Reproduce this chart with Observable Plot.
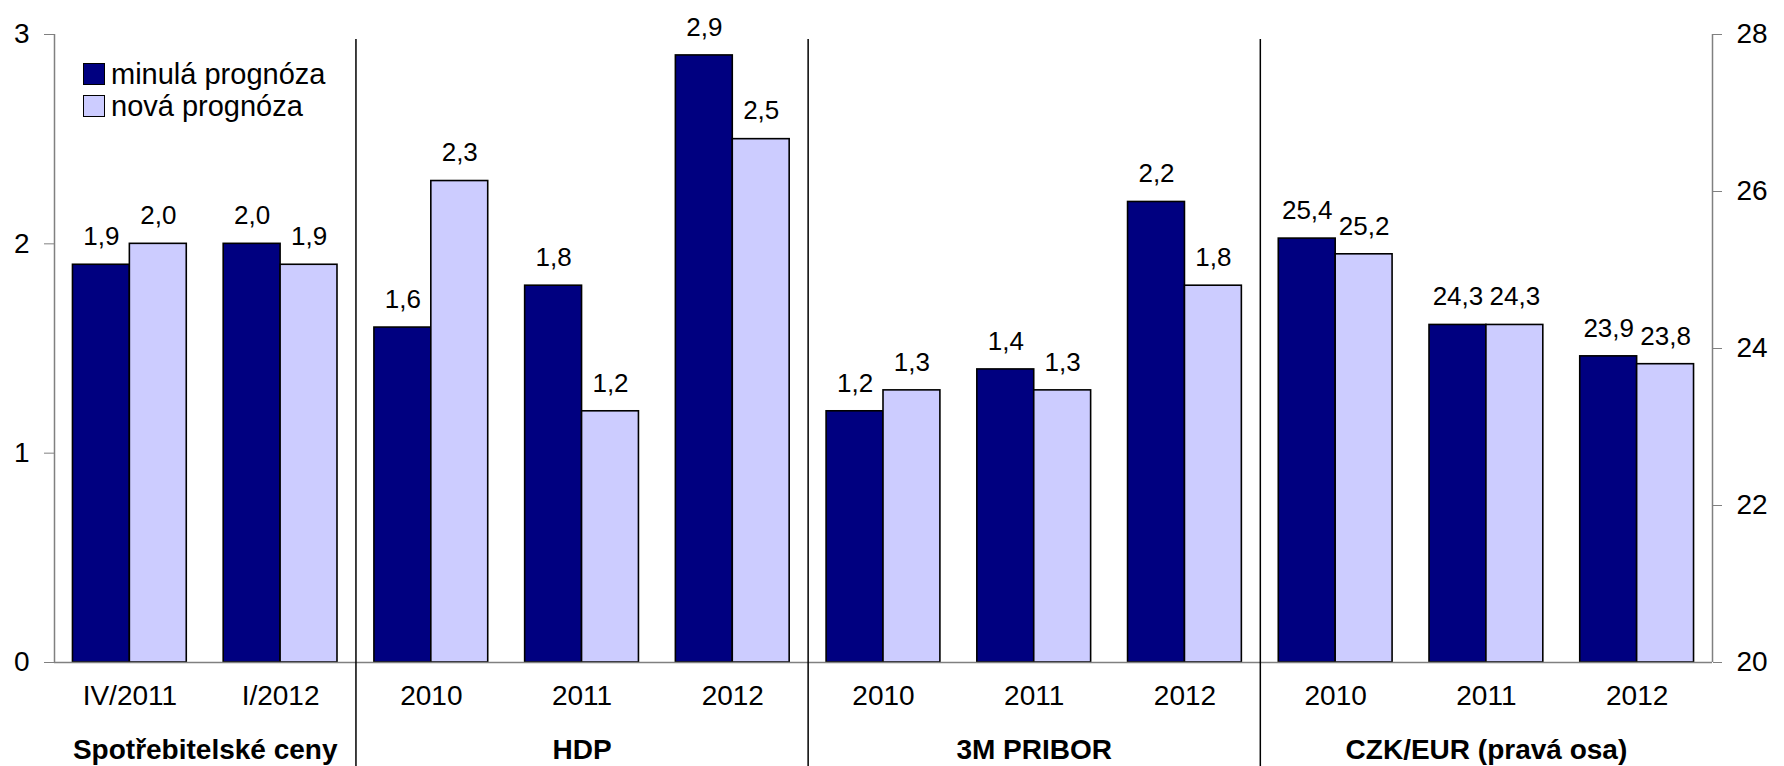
<!DOCTYPE html>
<html><head><meta charset="utf-8">
<script src="https://cdn.jsdelivr.net/npm/d3@7"></script>
<script src="https://cdn.jsdelivr.net/npm/@observablehq/plot@0.6"></script>
<style>
body{margin:0;background:#fff;font-family:"Liberation Sans",Arial,sans-serif;}
#wrap{position:relative;width:1784px;height:766px;}
#legend{position:absolute;left:83px;top:58px;font-size:29px;color:#000;}
.row{display:flex;align-items:center;height:32px;white-space:nowrap}
.row span.t{display:inline-block;line-height:1}
.sw{width:22px;height:22px;border:1.5px solid #000;margin-right:6px;box-sizing:border-box}
</style></head><body><div id="wrap"><div id="legend"></div></div>
<script>
const categories = ["IV/2011","I/2012","2010","2011","2012","2010","2011","2012","2010","2011","2012"];
const groups = ["Spotřebitelské ceny","HDP","3M PRIBOR","CZK/EUR (pravá osa)"];
const groupSizes = [2,3,3,3];
const rightAxisGroup = "CZK/EUR (pravá osa)";
const series = ["minulá prognóza","nová prognóza"];
const minula = [1.9,2.0,1.6,1.8,2.9,1.2,1.4,2.2,25.4,24.3,23.9];
const nova   = [2.0,1.9,2.3,1.2,2.5,1.3,1.3,1.8,25.2,24.3,23.8];
const leftTicks = [0,1,2,3];
const rightTicks = [20,22,24,26,28];
const colors = ["#000080","#CCCCFF"];

const lMax = leftTicks[leftTicks.length-1];
const rMin = rightTicks[0], rMax = rightTicks[rightTicks.length-1];
const toLeft = v => (v - rMin) / (rMax - rMin) * lMax;
const fromLeft = v => rMin + v / lMax * (rMax - rMin);

// group membership
const groupOf = [];
const boundaries = [];
let acc = 0;
groupSizes.forEach((n, g) => { for (let k = 0; k < n; k++) groupOf.push(groups[g]); acc += n; boundaries.push(acc); });
const separators = boundaries.slice(0, -1);
const groupCenters = groups.map((name, g) => {
  const start = g === 0 ? 0 : boundaries[g-1];
  return {name, center: (start + boundaries[g]) / 2};
});

const pad = 0.1225, w = (1 - 2*pad) / 2;
const values = [minula, nova];
const rows = [];
categories.forEach((c, i) => {
  series.forEach((s, si) => {
    const v = values[si][i];
    const onRight = groupOf[i] === rightAxisGroup;
    const x1 = i + pad + si*w;
    rows.push({i, cat: c, series: s, value: v, y: onRight ? toLeft(v) : v, x1, x2: x1 + w, xm: x1 + w/2});
  });
});

const fmt = v => v.toFixed(1).replace(".", ",");
const n = categories.length;

const chart = Plot.plot({
  width: 1784,
  height: 766,
  marginLeft: 54,
  marginRight: 72,
  marginTop: 34,
  marginBottom: 104,
  style: {fontFamily: "'Liberation Sans', Arial, sans-serif", fontSize: "26px", background: "#fff", color: "#000"},
  x: {domain: [0, n], axis: null},
  y: {domain: [0, lMax], axis: null},
  color: {domain: series, range: colors},
  marks: [
    Plot.rectY(rows, {x1: "x1", x2: "x2", y: "y", fill: "series", stroke: "#000", strokeWidth: 1.6}),
    Plot.ruleY([0], {stroke: "#808080", strokeWidth: 1.5}),
    Plot.ruleX([0, n], {stroke: "#808080", strokeWidth: 1.5}),
    Plot.ruleX(separators, {stroke: "#000", strokeWidth: 1.5, insetTop: 5, insetBottom: -104}),
    Plot.text(rows, {x: "xm", y: "y", text: d => fmt(d.value), dy: -28, fontSize: 26, fill: "#000"}),
    Plot.axisY(leftTicks, {anchor: "left", tickSize: 10, tickPadding: 15, stroke: "#808080", fill: "#000", fontSize: 28, tickFormat: d => String(d), label: null}),
    Plot.axisY(rightTicks.map(toLeft), {anchor: "right", tickSize: 9, tickPadding: 15, stroke: "#808080", fill: "#000", fontSize: 28, tickFormat: d => String(Math.round(fromLeft(d))), label: null}),
    Plot.axisX(categories.map((c, i) => i + 0.5), {anchor: "bottom", tickSize: 0, tickPadding: 23, fontSize: 28, fill: "#000", tickFormat: d => categories[Math.floor(d)], label: null}),
    Plot.text(groupCenters, {x: "center", text: "name", frameAnchor: "bottom", dy: 96, fontWeight: "bold", fontSize: 28, fill: "#000"})
  ]
});
document.getElementById("wrap").prepend(chart);

const legend = document.getElementById("legend");
series.forEach((s, si) => {
  const row = document.createElement("div");
  row.className = "row";
  const sw = document.createElement("span");
  sw.className = "sw";
  sw.style.background = colors[si];
  const t = document.createElement("span");
  t.className = "t";
  t.textContent = s;
  row.append(sw, t);
  legend.append(row);
});
</script>
</body></html>
